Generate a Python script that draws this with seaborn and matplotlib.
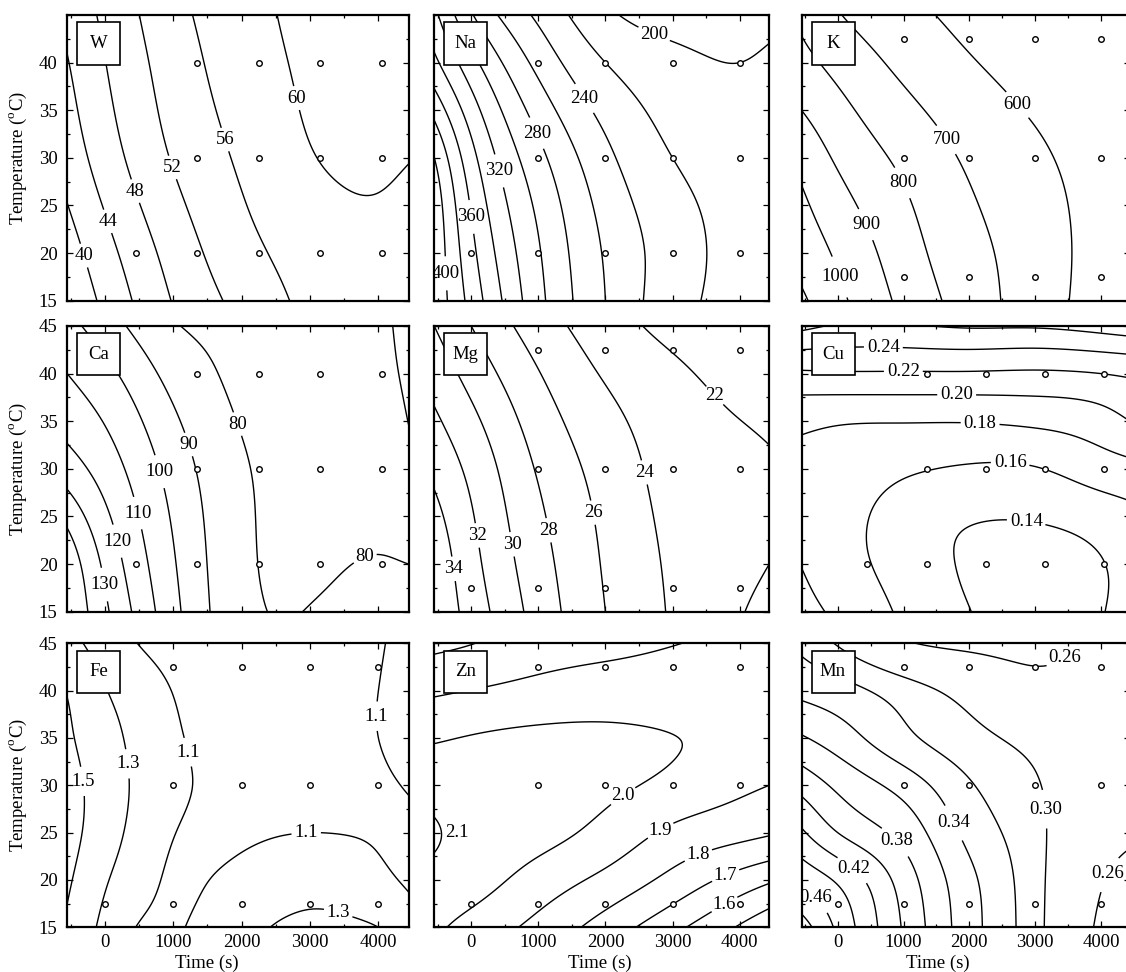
import numpy as np
import matplotlib
matplotlib.use("Agg")
import matplotlib.pyplot as plt
import seaborn as sns
from matplotlib.patches import Rectangle
from matplotlib.ticker import MultipleLocator

sns.set_theme(style="white")
plt.rcParams["font.family"] = ["Liberation Serif", "DejaVu Serif"]
plt.rcParams["mathtext.fontset"] = "custom"
plt.rcParams["mathtext.rm"] = "Liberation Serif"

# ---------------- data ----------------
TIME_NODES = [-550, 0, 1000, 2000, 3000, 4000, 4440]
TIME_NODES_FINE = [-550, 0, 500, 1000, 1500, 2000, 2500, 3000, 3500, 4000, 4440]
TEMP5 = [15, 20, 30, 40, 45]
TEMP7 = [15, 20, 25, 30, 35, 40, 45]

W_vals = [[36.6, 40.9, 48.2, 53.2, 56.9, 58.3, 58.5],
          [38.1, 42.5, 49.5, 54.6, 57.7, 59.0, 58.8],
          [41.6, 45.9, 52.3, 56.6, 59.8, 60.5, 60.1],
          [43.8, 47.9, 53.9, 58.1, 60.6, 61.5, 61.7],
          [45.0, 48.8, 54.7, 58.6, 61.0, 62.3, 62.6]]
Na_vals = [[415, 373, 306, 260, 228, 214, 212],
           [415, 366, 302, 258, 230, 214, 212],
           [400, 347, 286, 245, 220, 211, 210],
           [345, 307, 254, 220, 205, 200, 202],
           [325, 282, 236, 204, 193, 195, 197]]
K_vals = [[1117, 1025, 876, 751, 648, 568, 555],
          [1062, 985, 846, 731, 652, 568, 555],
          [970, 886, 778, 685, 618, 564, 556],
          [830, 770, 675, 607, 565, 540, 535],
          [780, 707, 628, 575, 545, 525, 520]]
Ca_vals = [[150, 132, 103, 82.5, 80.2, 82.0, 83.0],
           [147, 128, 101, 82.0, 79.0, 80.3, 80.0],
           [125, 115.5, 96, 81.0, 78.0, 78.5, 79.5],
           [110, 103, 86.5, 78.5, 78.5, 79.3, 80.4],
           [103, 95, 80.8, 79.0, 79.8, 79.6, 80.6]]
Mg_vals = [[35.7, 33.2, 29.2, 26.0, 23.8, 22.1, 21.6],
           [35.4, 32.7, 28.8, 25.8, 23.7, 22.4, 22.0],
           [33.5, 31.5, 27.8, 25.2, 23.3, 22.5, 22.2],
           [31.2, 29.3, 26.1, 23.8, 22.4, 21.3, 21.0],
           [30.0, 28.0, 25.0, 22.9, 21.4, 20.5, 20.3]]
Cu_vals = [[0.186, 0.1765, 0.157, 0.1405, 0.128, 0.139, 0.146],
           [0.1795, 0.169, 0.152, 0.137, 0.129, 0.139, 0.146],
           [0.174, 0.168, 0.151, 0.142, 0.142, 0.150, 0.155],
           [0.174, 0.171, 0.163, 0.158, 0.159, 0.170, 0.174],
           [0.185, 0.182, 0.181, 0.181, 0.184, 0.192, 0.200],
           [0.217, 0.218, 0.218, 0.218, 0.217, 0.220, 0.223],
           [0.265, 0.258, 0.258, 0.262, 0.262, 0.268, 0.272]]
Fe_vals = [[1.47, 1.25, 1.09, 1.08, 1.15, 1.235, 1.31, 1.34, 1.335, 1.30, 1.20],
           [1.53, 1.32, 1.176, 1.075, 1.097, 1.15, 1.20, 1.23, 1.21, 1.14, 1.08],
           [1.58, 1.385, 1.235, 1.107, 1.06, 1.07, 1.09, 1.10, 1.095, 1.085, 1.08],
           [1.575, 1.404, 1.262, 1.15, 1.07, 1.03, 1.01, 1.00, 1.02, 1.07, 1.11],
           [1.53, 1.374, 1.242, 1.13, 1.05, 1.01, 0.99, 0.99, 1.03, 1.10, 1.17],
           [1.49, 1.31, 1.195, 1.095, 1.03, 1.00, 0.98, 0.98, 1.03, 1.10, 1.14],
           [1.36, 1.217, 1.095, 1.03, 1.00, 0.98, 0.97, 0.98, 1.02, 1.09, 1.12]]
Zn_vals = [[2.017, 1.967, 1.870, 1.757, 1.628, 1.49, 1.43],
           [2.07, 2.041, 1.959, 1.873, 1.77, 1.66, 1.615],
           [2.108, 2.07, 2.03, 1.969, 1.88, 1.83, 1.81],
           [2.06, 2.05, 2.04, 2.02, 1.975, 1.92, 1.90],
           [1.99, 2.005, 2.02, 2.02, 2.002, 1.98, 1.97],
           [1.885, 1.902, 1.93, 1.945, 1.95, 1.955, 1.955],
           [1.775, 1.797, 1.85, 1.875, 1.897, 1.915, 1.92]]
Mn_vals = [[0.49, 0.456, 0.398, 0.348, 0.307, 0.255, 0.24],
           [0.455, 0.437, 0.391, 0.345, 0.307, 0.262, 0.25],
           [0.423, 0.40, 0.373, 0.334, 0.306, 0.272, 0.265],
           [0.393, 0.376, 0.352, 0.322, 0.302, 0.280, 0.275],
           [0.362, 0.35, 0.325, 0.307, 0.292, 0.278, 0.275],
           [0.335, 0.328, 0.31, 0.29, 0.27, 0.27, 0.27],
           [0.315, 0.298, 0.264, 0.252, 0.252, 0.265, 0.27]]

# contour levels: labelled ones and plain ones
W_lab, W_plain = [40, 44, 48, 52, 56, 60], []
Na_lab, Na_plain = [200, 240, 280, 320, 360, 400], [220, 260, 300, 340, 380]
K_lab, K_plain = [600, 700, 800, 900, 1000], [1100]
Ca_lab, Ca_plain = [80, 90, 100, 110, 120, 130], [140]
Mg_lab, Mg_plain = [22, 24, 26, 28, 30, 32, 34], []
Cu_lab, Cu_plain = [0.14, 0.16, 0.18, 0.20, 0.22, 0.24], [0.26]
Fe_lab, Fe_plain = [1.1, 1.3, 1.5], []
Zn_lab, Zn_plain = [1.6, 1.7, 1.8, 1.9, 2.0], [1.5, 2.1]
Mn_lab, Mn_plain = [0.26, 0.30, 0.34, 0.38, 0.42, 0.46], [0.32, 0.36, 0.40, 0.44, 0.48]

# experimental design points
ptsA_t = [450, 1350, 2250, 3150, 4050, 1350, 2250, 3150, 4050, 1350, 2250, 3150, 4050]
ptsA_T = [20, 20, 20, 20, 20, 30, 30, 30, 30, 40, 40, 40, 40]
ptsB_t = [0, 1000, 2000, 3000, 4000, 1000, 2000, 3000, 4000, 1000, 2000, 3000, 4000]
ptsB_T = [20, 20, 20, 20, 20, 30, 30, 30, 30, 40, 40, 40, 40]
ptsC_t = [0, 1000, 2000, 3000, 4000, 1000, 2000, 3000, 4000, 1000, 2000, 3000, 4000]
ptsC_T = [17.5, 17.5, 17.5, 17.5, 17.5, 30, 30, 30, 30, 42.5, 42.5, 42.5, 42.5]
ptsK_t = [1000, 2000, 3000, 4000, 1000, 2000, 3000, 4000, 1000, 2000, 3000, 4000]
ptsK_T = [17.5, 17.5, 17.5, 17.5, 30, 30, 30, 30, 42.5, 42.5, 42.5, 42.5]

# ---------------- layout (pixels of the 1126x972 canvas) ----------------
FIG_W, FIG_H = 1126, 972
COLS = [(67.2, 341.3), (434.3, 334.9), (801.5, 328.5)]
ROWS = [(15.0, 300.7), (326.0, 611.7), (643.3, 927.3)]
XLIM = (-550, 4440)

label_pos = {
    "W": [(-322, 19.7), (28, 23.3), (443, 26.5), (993, 29.0), (1661, 31.7), (2757, 36.2)],
    "Na": [(2689, 42.4), (1721, 36.4), (975, 32.6), (454, 28.7), (7, 23.8), (-291, 17.9)],
    "K": [(2668, 35.2), (1605, 31.7), (871, 27.0), (364, 22.8), (-167, 17.0)],
    "Ca": [(1939, 34.7), (1286, 32.7), (798, 29.7), (564, 25.5), (233, 22.5), (-45, 17.8),
           (3756, 21.5)],
    "Mg": [(3598, 37.5), (2565, 29.6), (1810, 25.4), (1189, 23.6), (628, 22.1), (81, 23.0),
           (-266, 19.5)],
    "Cu": [(694, 43.0), (997, 40.4), (1807, 37.8), (2162, 34.6), (2618, 30.4), (2870, 24.8)],
    "Fe": [(-118, 30.6), (369, 32.3), (1320, 33.7), (3951, 37.3), (2942, 25.3), (3415, 16.6)],
    "Zn": [(2317, 28.3), (2888, 24.4), (3384, 22.6), (3807, 20.2), (3807, 17.0)],
    "Mn": [(3402, 43.8), (3326, 27.6), (1757, 26.0), (921, 24.3), (278, 21.5), (-250, 18.8),
           (4111, 20.6)],
}
extra_text = {"Zn": [(-217, 25.0, "2.1")]}

panels = [
    [("W", TIME_NODES, TEMP5, W_vals, W_lab, W_plain, "%d", ptsA_t, ptsA_T),
     ("Na", TIME_NODES, TEMP5, Na_vals, Na_lab, Na_plain, "%d", ptsB_t, ptsB_T),
     ("K", TIME_NODES, TEMP5, K_vals, K_lab, K_plain, "%d", ptsK_t, ptsK_T)],
    [("Ca", TIME_NODES, TEMP5, Ca_vals, Ca_lab, Ca_plain, "%d", ptsA_t, ptsA_T),
     ("Mg", TIME_NODES, TEMP5, Mg_vals, Mg_lab, Mg_plain, "%d", ptsC_t, ptsC_T),
     ("Cu", TIME_NODES, TEMP7, Cu_vals, Cu_lab, Cu_plain, "%.2f", ptsA_t, ptsA_T)],
    [("Fe", TIME_NODES_FINE, TEMP7, Fe_vals, Fe_lab, Fe_plain, "%.1f", ptsC_t, ptsC_T),
     ("Zn", TIME_NODES, TEMP7, Zn_vals, Zn_lab, Zn_plain, "%.1f", ptsC_t, ptsC_T),
     ("Mn", TIME_NODES, TEMP7, Mn_vals, Mn_lab, Mn_plain, "%.2f", ptsC_t, ptsC_T)],
]


def spline_weights(xn, xq):
    """Natural cubic spline as a linear map from node values to query values."""
    xn = np.asarray(xn, float)
    n = len(xn)
    h = np.diff(xn)
    A = np.zeros((n, n))
    B = np.zeros((n, n))
    A[0, 0] = A[-1, -1] = 1.0
    for i in range(1, n - 1):
        A[i, i - 1] = h[i - 1] / 6.0
        A[i, i] = (h[i - 1] + h[i]) / 3.0
        A[i, i + 1] = h[i] / 6.0
        B[i, i - 1] = 1.0 / h[i - 1]
        B[i, i] = -1.0 / h[i - 1] - 1.0 / h[i]
        B[i, i + 1] = 1.0 / h[i]
    M = np.linalg.solve(A, B)
    idx = np.clip(np.searchsorted(xn, xq) - 1, 0, n - 2)
    x0, x1 = xn[idx], xn[idx + 1]
    hh = x1 - x0
    a = (x1 - xq) / hh
    b = (xq - x0) / hh
    W = np.zeros((len(xq), n))
    rows = np.arange(len(xq))
    W[rows, idx] += a
    W[rows, idx + 1] += b
    W += ((a ** 3 - a)[:, None] * M[idx] + (b ** 3 - b)[:, None] * M[idx + 1]) * (hh ** 2 / 6.0)[:, None]
    return W


fig = plt.figure(figsize=(FIG_W / 100, FIG_H / 100), dpi=100)
t_fine = np.linspace(XLIM[0], XLIM[1], 320)
T_fine = np.linspace(15, 45, 320)
tt, TT = np.meshgrid(t_fine, T_fine)

FS = 13.5
for r, row in enumerate(panels):
    top, bot = ROWS[r]
    for c, (name, tn, Tn, vals, lab, plain, fmt, pt_t, pt_T) in enumerate(row):
        left, width = COLS[c]
        ax = fig.add_axes([left / FIG_W, 1 - bot / FIG_H, width / FIG_W, (bot - top) / FIG_H])
        Z = spline_weights(Tn, T_fine) @ np.asarray(vals, float) @ spline_weights(tn, t_fine).T
        if plain:
            ax.contour(tt, TT, Z, levels=plain, colors="black", linewidths=1.0)
        cs = ax.contour(tt, TT, Z, levels=lab, colors="black", linewidths=1.0)
        ax.clabel(cs, inline=True, inline_spacing=3, fmt=fmt, fontsize=FS,
                  manual=label_pos[name])
        for txt in cs.labelTexts:
            txt.set_rotation(0)
        for (xt, yt, s) in extra_text.get(name, []):
            ax.text(xt, yt, s, fontsize=FS, ha="center", va="center", color="black")
        sns.scatterplot(x=pt_t, y=pt_T, ax=ax, marker="o", s=16, color="white",
                        edgecolor="black", linewidth=1.0, zorder=4, legend=False)
        ax.set_xlim(*XLIM)
        ax.set_ylim(15, 45)
        ax.set_xticks([0, 1000, 2000, 3000, 4000])
        ax.xaxis.set_minor_locator(MultipleLocator(500))
        ax.set_yticks([15, 20, 25, 30, 35, 40] if r == 0 else [15, 20, 25, 30, 35, 40, 45])
        ax.yaxis.set_minor_locator(MultipleLocator(2.5))
        ax.tick_params(which="both", direction="in", top=True, right=True, bottom=True,
                       left=True, colors="black", labelsize=FS)
        ax.tick_params(which="major", length=4, width=0.9)
        ax.tick_params(which="minor", length=2.5, width=0.9)
        ax.tick_params(axis="x", pad=5)
        ax.tick_params(axis="y", pad=7)
        for s in ax.spines.values():
            s.set_color("black")
            s.set_linewidth(1.6)
        if r < 2:
            ax.set_xticklabels([])
        else:
            ax.set_xlabel("Time (s)", fontsize=FS, color="black")
            lx = {0: 0.409, 1: 0.495, 2: 0.416}[c]
            ax.xaxis.set_label_coords(lx, -0.095)
            ax.xaxis.label.set_va("top")
        if c > 0:
            ax.set_yticklabels([])
        else:
            ax.set_ylabel("Temperature ($^{\\mathrm{o}}$C)", fontsize=FS, color="black")
            ax.yaxis.set_label_coords(-0.113, 0.5)
        # element tag box
        bw, bh = 43.0 / width, 42.0 / (bot - top)
        bx, by = 10.0 / width, 1 - 7.5 / (bot - top) - bh
        ax.add_patch(Rectangle((bx, by), bw, bh, transform=ax.transAxes, facecolor="white",
                               edgecolor="black", linewidth=1.2, zorder=5))
        ax.text(bx + bw / 2, by + bh / 2, name, transform=ax.transAxes, ha="center",
                va="center", fontsize=FS, color="black", zorder=6)

fig.savefig("out.png", dpi=100)
